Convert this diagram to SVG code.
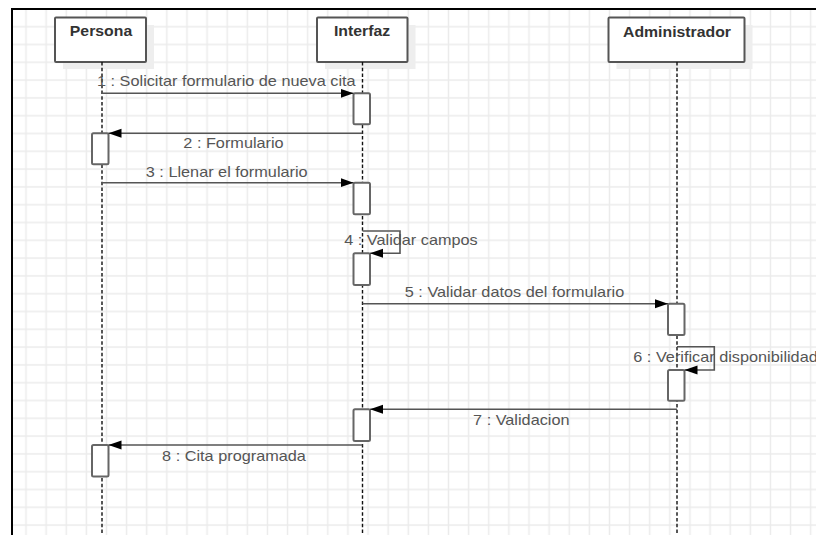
<svg xmlns="http://www.w3.org/2000/svg" width="816" height="535" viewBox="0 0 816 535">
<style>
.box{fill:#fff;stroke:#555;stroke-width:2}
.shadow{fill:#eeeeee}
.life{stroke:#111;stroke-width:1.4;stroke-dasharray:3.5,2.2;fill:none}
.act{fill:#fff;stroke:#666;stroke-width:2}
.msg{stroke:#555;stroke-width:1.6;fill:none}
.title{font-family:"Liberation Sans",Arial,sans-serif;font-size:14px;font-weight:bold;fill:#333;text-anchor:middle}
.lbl{font-family:"Liberation Sans",Arial,sans-serif;font-size:14.4px;fill:#555}
.mid{text-anchor:middle}
</style>
<defs>
<pattern id="grid" patternUnits="userSpaceOnUse" x="15.94" y="17.8" width="20.12" height="17.8">
<line x1="10.06" y1="0" x2="10.06" y2="17.8" stroke="#ebebeb" stroke-width="1.5"/>
<line x1="0" y1="8.9" x2="20.12" y2="8.9" stroke="#ebebeb" stroke-width="1.5"/>
</pattern>
<marker id="arr" markerUnits="userSpaceOnUse" markerWidth="14" markerHeight="10" refX="13" refY="4.5" orient="auto">
<path d="M0,0 L13,4.5 L0,9 z" fill="#000"/>
</marker>
</defs>
<rect x="0" y="0" width="816" height="535" fill="#fff"/>
<rect x="12" y="9" width="804" height="526" fill="url(#grid)"/>
<line x1="11" y1="9" x2="816" y2="9" stroke="#000" stroke-width="2"/>
<line x1="12" y1="9" x2="12" y2="535" stroke="#000" stroke-width="2"/>

<g id="persona">
<rect class="shadow" x="63" y="25" width="91" height="44"/>
<rect class="box" x="55" y="17.5" width="91" height="44.5" rx="1"/>
<text class="title" transform="translate(101,36.3) scale(1.13,1)">Persona</text>
<line class="life" x1="102" y1="62" x2="102" y2="535"/>
<rect class="act" x="92" y="133.3" width="16.5" height="31" rx="1.5"/>
<rect class="act" x="92" y="445" width="16.5" height="31.5" rx="1.5"/>
</g>

<g id="interfaz">
<rect class="shadow" x="325" y="25" width="90.5" height="44"/>
<rect class="box" x="317" y="17.5" width="90.5" height="44.5" rx="1"/>
<text class="title" transform="translate(362,36.3) scale(1.13,1)">Interfaz</text>
<line class="life" x1="362.5" y1="62" x2="362.5" y2="535"/>
<rect class="act" x="353.5" y="93.3" width="16.5" height="31" rx="1.5"/>
<rect class="act" x="353.5" y="182.7" width="16.5" height="31.6" rx="1.5"/>
<rect class="act" x="353.5" y="253.3" width="16.5" height="31.7" rx="1.5"/>
<rect class="act" x="353.5" y="409.3" width="16.5" height="31.7" rx="1.5"/>
</g>

<g id="administrador">
<rect class="shadow" x="616.5" y="25" width="136" height="44"/>
<rect class="box" x="608.5" y="17.5" width="136" height="44.5" rx="1"/>
<text class="title" transform="translate(677,36.5) scale(1.13,1)">Administrador</text>
<line class="life" x1="677" y1="62" x2="677" y2="535"/>
<rect class="act" x="668" y="303.7" width="16.5" height="31.3" rx="1.5"/>
<rect class="act" x="668" y="370" width="16.5" height="30.7" rx="1.5"/>
</g>

<g id="connectors">
<line class="msg" x1="102" y1="93.3" x2="353.5" y2="93.3" marker-end="url(#arr)"/>
<text class="lbl mid" transform="translate(226.3,86) scale(1.13,1)">1 : Solicitar formulario de nueva cita</text>

<line class="msg" x1="362.5" y1="133.3" x2="108.5" y2="133.3" marker-end="url(#arr)"/>
<text class="lbl mid" transform="translate(233.5,148) scale(1.13,1)">2 : Formulario</text>

<line class="msg" x1="102" y1="182.7" x2="353.5" y2="182.7" marker-end="url(#arr)"/>
<text class="lbl mid" transform="translate(226.7,176.7) scale(1.13,1)">3 : Llenar el formulario</text>

<polyline class="msg" points="362.5,231 400,231 400,253.3 370,253.3" marker-end="url(#arr)"/>
<text class="lbl mid" transform="translate(411,245) scale(1.13,1)">4 : Validar campos</text>

<line class="msg" x1="362.5" y1="303.7" x2="668" y2="303.7" marker-end="url(#arr)"/>
<text class="lbl mid" transform="translate(514.5,296.7) scale(1.13,1)">5 : Validar datos del formulario</text>

<polyline class="msg" points="677,346.7 714.3,346.7 714.3,370 684.5,370" marker-end="url(#arr)"/>
<text class="lbl" transform="translate(633.3,361.7) scale(1.13,1)">6 : Verificar disponibilidad</text>

<line class="msg" x1="677" y1="409.3" x2="370" y2="409.3" marker-end="url(#arr)"/>
<text class="lbl mid" transform="translate(521.3,425) scale(1.13,1)">7 : Validacion</text>

<line class="msg" x1="362.5" y1="445" x2="108.5" y2="445" marker-end="url(#arr)"/>
<text class="lbl mid" transform="translate(234,461) scale(1.13,1)">8 : Cita programada</text>
</g>
</svg>
